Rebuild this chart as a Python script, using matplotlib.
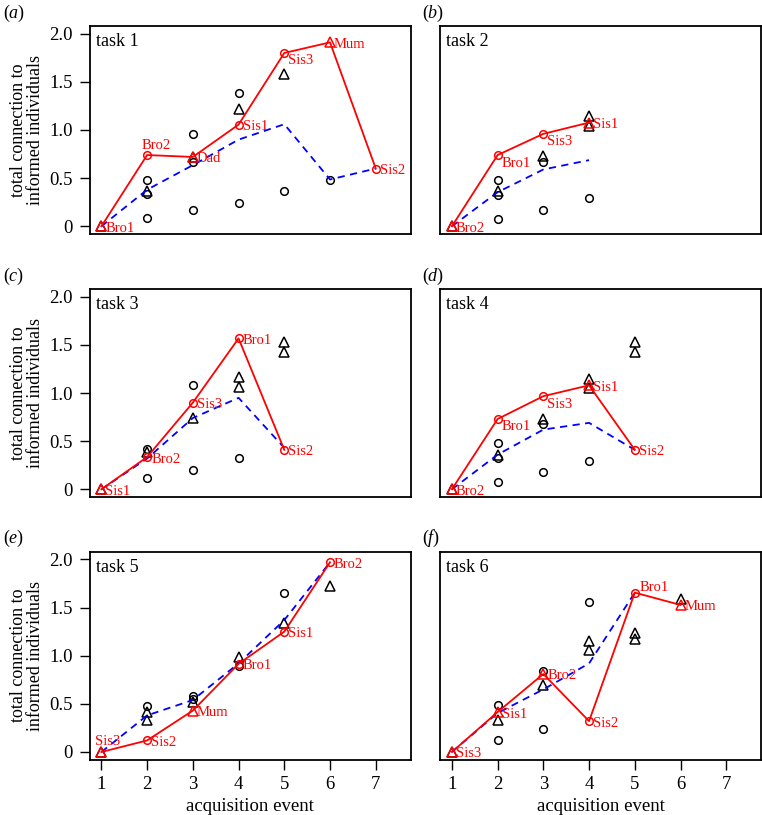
# Six-panel chart: connection to informed individuals by acquisition event
import numpy as np
import matplotlib
matplotlib.use('Agg')
import matplotlib.pyplot as plt

# Data
task1_names = ['Bro1', 'Bro2', 'Dad', 'Sis1', 'Sis3', 'Mum', 'Sis2']
task1_red = [0, 0.74, 0.72, 1.056, 1.80, 1.91, 0.60]
task1_mean = [0, 0.38, 0.635, 0.90, 1.06, 0.486, 0.60]
task1_circ_x = [2, 2, 2, 3, 3, 3, 4, 4, 5, 6]
task1_circ_y = [0.48, 0.34, 0.087, 0.96, 0.67, 0.174, 1.385, 0.243, 0.365, 0.48]
task1_tri_x = [1, 2, 3, 4, 5]
task1_tri_y = [0, 0.365, 0.72, 1.215, 1.58]

task2_names = ['Bro2', 'Bro1', 'Sis3', 'Sis1']
task2_red = [0, 0.74, 0.96, 1.077]
task2_mean = [0, 0.354, 0.59, 0.687]
task2_circ_x = [2, 2, 2, 3, 3, 4]
task2_circ_y = [0.48, 0.33, 0.08, 0.67, 0.174, 0.29]
task2_tri_x = [1, 2, 3, 4, 4]
task2_tri_y = [0, 0.365, 0.73, 1.146, 1.04]

task3_names = ['Sis1', 'Bro2', 'Sis3', 'Bro1', 'Sis2']
task3_red = [0, 0.335, 0.90, 1.567, 0.41]
task3_mean = [0, 0.32, 0.74, 0.95, 0.43]
task3_circ_x = [2, 2, 3, 3, 4]
task3_circ_y = [0.42, 0.116, 1.08, 0.20, 0.32]
task3_tri_x = [1, 2, 3, 4, 4, 5, 5]
task3_tri_y = [0, 0.39, 0.74, 1.17, 1.065, 1.53, 1.43]

task4_names = ['Bro2', 'Bro1', 'Sis3', 'Sis1', 'Sis2']
task4_red = [0, 0.73, 0.967, 1.08, 0.41]
task4_mean = [0, 0.36, 0.62, 0.69, 0.41]
task4_circ_x = [2, 2, 2, 3, 3, 4]
task4_circ_y = [0.484, 0.325, 0.08, 0.68, 0.175, 0.29]
task4_tri_x = [1, 2, 3, 4, 4, 5, 5]
task4_tri_y = [0, 0.36, 0.73, 1.148, 1.047, 1.53, 1.425]

task5_names = ['Sis3', 'Sis2', 'Mum', 'Bro1', 'Sis1', 'Bro2']
task5_red = [0, 0.12, 0.43, 0.915, 1.25, 1.97]
task5_mean = [0, 0.38, 0.54, 0.92, 1.37, 1.97]
task5_circ_x = [2, 3, 3, 4, 5]
task5_circ_y = [0.48, 0.58, 0.55, 0.89, 1.65]
task5_tri_x = [1, 2, 2, 3, 4, 5, 6]
task5_tri_y = [0, 0.42, 0.33, 0.515, 0.985, 1.34, 1.72]

task6_names = ['Sis3', 'Sis1', 'Bro2', 'Sis2', 'Bro1', 'Mum']
task6_red = [0, 0.415, 0.81, 0.32, 1.655, 1.527]
task6_mean = [0, 0.405, 0.65, 0.92, 1.655]
task6_circ_x = [2, 2, 3, 3, 4]
task6_circ_y = [0.485, 0.12, 0.836, 0.243, 1.56]
task6_tri_x = [1, 2, 3, 4, 4, 5, 5, 6]
task6_tri_y = [0, 0.33, 0.70, 1.157, 1.06, 1.234, 1.17, 1.59]

xticks = [1, 2, 3, 4, 5, 6, 7]
yticks = [0, 0.5, 1.0, 1.5, 2.0]
ytick_labels = ['0', '0.5', '1.0', '1.5', '2.0']
panel_letters = ['a', 'b', 'c', 'd', 'e', 'f']

# Style: marker shapes of the red points and where their labels go
task1_shape = ['^', 'o', '^', 'o', 'o', '^', 'o']
task2_shape = ['^', 'o', 'o', '^']
task3_shape = ['^', 'o', 'o', 'o', 'o']
task4_shape = ['^', 'o', 'o', '^', 'o']
task5_shape = ['^', 'o', '^', 'o', 'o', 'o']
task6_shape = ['^', '^', '^', 'o', 'o', '^']

task1_lab = ['r', 'a', 'r', 'r', 'br', 'r', 'r']
task2_lab = ['r', 'br', 'br', 'r']
task3_lab = ['r', 'r', 'r', 'r', 'r']
task4_lab = ['r', 'br', 'br', 'r', 'r']
task5_lab = ['a', 'r', 'r', 'r', 'r', 'r']
task6_lab = ['r', 'r', 'r', 'r', 'ar', 'r']

tasks = [
    (task1_names, task1_red, task1_mean, task1_circ_x, task1_circ_y, task1_tri_x, task1_tri_y, task1_shape, task1_lab),
    (task2_names, task2_red, task2_mean, task2_circ_x, task2_circ_y, task2_tri_x, task2_tri_y, task2_shape, task2_lab),
    (task3_names, task3_red, task3_mean, task3_circ_x, task3_circ_y, task3_tri_x, task3_tri_y, task3_shape, task3_lab),
    (task4_names, task4_red, task4_mean, task4_circ_x, task4_circ_y, task4_tri_x, task4_tri_y, task4_shape, task4_lab),
    (task5_names, task5_red, task5_mean, task5_circ_x, task5_circ_y, task5_tri_x, task5_tri_y, task5_shape, task5_lab),
    (task6_names, task6_red, task6_mean, task6_circ_x, task6_circ_y, task6_tri_x, task6_tri_y, task6_shape, task6_lab),
]

# label offsets in pixels
offsets = {'r': (4, -2, 'left'), 'br': (4, -8, 'left'), 'a': (-6, 10, 'left'), 'ar': (5, 5, 'left')}

plt.rcParams['font.family'] = ['Liberation Serif', 'DejaVu Serif']
plt.rcParams['mathtext.fontset'] = 'custom'
plt.rcParams['mathtext.rm'] = 'Liberation Serif'
plt.rcParams['mathtext.it'] = 'Liberation Serif:italic'

W, H = 762, 815
fig = plt.figure(figsize=(W / 100, H / 100), dpi=100)

col_left = [89.5, 440]
row_top = [26, 289, 551.7]
ax_w, ax_h = 321, 208

for i, (names, red, mean, cx, cy, tx, ty, shape, lab) in enumerate(tasks):
    r, c = i // 2, i % 2
    ax = fig.add_axes([col_left[c] / W, 1 - (row_top[r] + ax_h) / H, ax_w / W, ax_h / H])
    ax.set_xlim(0.74, 7.76)
    ax.set_ylim(-0.08, 2.08)

    ax.plot(cx, cy, linestyle='none', marker='o', ms=5.5, mfc='none', mec='black', mew=1.1)
    ax.plot(tx, ty, linestyle='none', marker='^', ms=7, mfc='none', mec='black', mew=1.1)

    ev = np.arange(1, len(mean) + 1)
    ax.plot(ev, mean, color='#0000FF', lw=1.3, linestyle=(0, (4, 3)))

    ev = np.arange(1, len(red) + 1)
    ax.plot(ev, red, color='#FF0000', lw=1.3)
    for k in range(len(red)):
        ax.plot(ev[k], red[k], linestyle='none', marker=shape[k],
                ms=7 if shape[k] == '^' else 5.5, mfc='none', mec='#FF0000', mew=1.1)
        dx, dy, ha = offsets[lab[k]]
        ax.annotate(names[k], (ev[k], red[k]), xytext=(dx, dy), textcoords='offset pixels',
                    ha=ha, va='center', color='#FF0000', fontsize=10.5)

    ax.text(0.02, 0.925, 'task %d' % (i + 1), transform=ax.transAxes, fontsize=13, va='center')

    for s in ax.spines.values():
        s.set_linewidth(1.3)
    ax.tick_params(direction='out', length=7, width=1, labelsize=13.5, pad=5)
    ax.set_xticks(xticks)
    ax.set_yticks(yticks)
    if c == 0:
        ax.set_yticklabels(ytick_labels)
        fig.text(27 / W, 1 - (row_top[r] + ax_h / 2) / H, 'total connection to\ninformed individuals',
                 rotation=90, ha='center', va='center', fontsize=13, linespacing=1.0)
    else:
        ax.tick_params(axis='y', left=False, labelleft=False)
    if r == 2:
        ax.set_xlabel('acquisition event', fontsize=13.5, labelpad=3)
    else:
        ax.tick_params(axis='x', bottom=False, labelbottom=False)

    lx = 3 if c == 0 else 422
    fig.text(lx / W, 1 - (row_top[r] - 13) / H, r'($\it{%s}$)' % panel_letters[i],
             fontsize=13, ha='left', va='center')

fig.savefig('out.png', dpi=100)
